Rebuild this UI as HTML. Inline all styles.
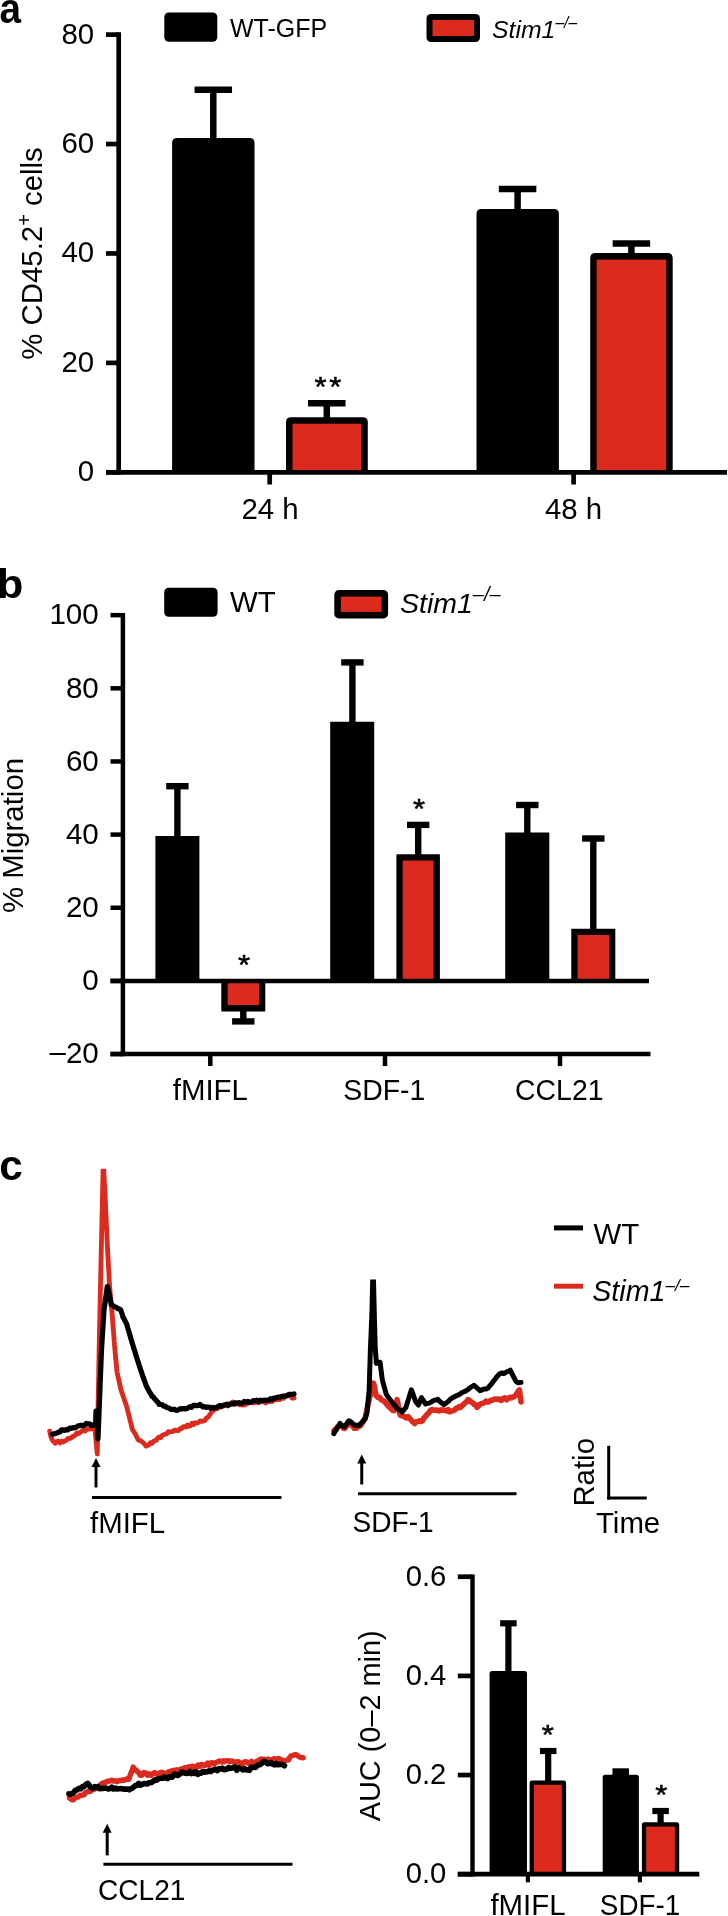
<!DOCTYPE html>
<html><head><meta charset="utf-8"><title>Figure</title>
<style>
html,body{margin:0;padding:0;background:#fff;}
body{width:728px;height:1916px;overflow:hidden;font-family:"Liberation Sans",sans-serif;}
svg{display:block;transform:translateZ(0);will-change:transform;font-family:"Liberation Sans",sans-serif;}
text{fill:#000;}
</style></head><body>
<svg width="728" height="1916" viewBox="0 0 728 1916">
<rect x="0" y="0" width="728" height="1916" fill="#fff"/>
<text transform="translate(-0.6,22.7) scale(0.91,1)" font-size="42.5" font-weight="bold">a</text>
<line x1="118.7" y1="32.27" x2="118.7" y2="474.65000000000003" stroke="#000" stroke-width="4.7" stroke-linecap="butt"/>
<line x1="106" y1="472.3" x2="118.7" y2="472.3" stroke="#000" stroke-width="4.7" stroke-linecap="butt"/>
<text x="94.2" y="481.3" font-size="29.4" text-anchor="end" font-weight="normal" font-style="normal" >0</text>
<line x1="106" y1="362.88" x2="118.7" y2="362.88" stroke="#000" stroke-width="4.7" stroke-linecap="butt"/>
<text x="94.2" y="371.88" font-size="29.4" text-anchor="end" font-weight="normal" font-style="normal" >20</text>
<line x1="106" y1="253.46" x2="118.7" y2="253.46" stroke="#000" stroke-width="4.7" stroke-linecap="butt"/>
<text x="94.2" y="262.46000000000004" font-size="29.4" text-anchor="end" font-weight="normal" font-style="normal" >40</text>
<line x1="106" y1="144.04000000000002" x2="118.7" y2="144.04000000000002" stroke="#000" stroke-width="4.7" stroke-linecap="butt"/>
<text x="94.2" y="153.04000000000002" font-size="29.4" text-anchor="end" font-weight="normal" font-style="normal" >60</text>
<line x1="106" y1="34.620000000000005" x2="118.7" y2="34.620000000000005" stroke="#000" stroke-width="4.7" stroke-linecap="butt"/>
<text x="94.2" y="43.620000000000005" font-size="29.4" text-anchor="end" font-weight="normal" font-style="normal" >80</text>
<line x1="269.7" y1="472.3" x2="269.7" y2="484.5" stroke="#000" stroke-width="4.7" stroke-linecap="butt"/>
<line x1="573.6" y1="472.3" x2="573.6" y2="484.5" stroke="#000" stroke-width="4.7" stroke-linecap="butt"/>
<text x="270" y="518.5" font-size="29.4" text-anchor="middle" font-weight="normal" font-style="normal" >24 h</text>
<text x="573.5" y="518.5" font-size="29.4" text-anchor="middle" font-weight="normal" font-style="normal" >48 h</text>
<text transform="translate(42,253.5) rotate(-90)" font-size="29.4" text-anchor="middle">% CD45.2<tspan font-size="20" dy="-11">+</tspan><tspan dy="11"> cells</tspan></text>
<path d="M172.1,472.3 L172.1,143 Q172.1,138 177.1,138 L249.5,138 Q254.5,138 254.5,143 L254.5,472.3 Z" fill="#000"/>
<line x1="194.55" y1="89.75" x2="232.05" y2="89.75" stroke="#000" stroke-width="6.5" stroke-linecap="butt"/>
<line x1="213.3" y1="89.75" x2="213.3" y2="140" stroke="#000" stroke-width="6.5" stroke-linecap="butt"/>
<path d="M286,472.3 L286,422.2 Q286,417.2 291,417.2 L362.8,417.2 Q367.8,417.2 367.8,422.2 L367.8,472.3 Z" fill="#000"/>
<rect x="292.5" y="423.7" width="68.80000000000001" height="48.60000000000002" fill="#dc2a1e"/>
<line x1="308.05" y1="403.25" x2="345.55" y2="403.25" stroke="#000" stroke-width="6.5" stroke-linecap="butt"/>
<line x1="326.8" y1="403.25" x2="326.8" y2="419" stroke="#000" stroke-width="6.5" stroke-linecap="butt"/>
<path d="M476.5,472.3 L476.5,213.9 Q476.5,208.9 481.5,208.9 L553.9,208.9 Q558.9,208.9 558.9,213.9 L558.9,472.3 Z" fill="#000"/>
<line x1="498.85" y1="189.05" x2="536.35" y2="189.05" stroke="#000" stroke-width="6.5" stroke-linecap="butt"/>
<line x1="517.6" y1="189.05" x2="517.6" y2="210" stroke="#000" stroke-width="6.5" stroke-linecap="butt"/>
<path d="M590.2,472.3 L590.2,258.1 Q590.2,253.1 595.2,253.1 L667.7,253.1 Q672.7,253.1 672.7,258.1 L672.7,472.3 Z" fill="#000"/>
<rect x="596.7" y="259.6" width="69.5" height="212.70000000000002" fill="#dc2a1e"/>
<line x1="612.65" y1="243.45" x2="650.15" y2="243.45" stroke="#000" stroke-width="6.5" stroke-linecap="butt"/>
<line x1="631.4" y1="243.45" x2="631.4" y2="255" stroke="#000" stroke-width="6.5" stroke-linecap="butt"/>
<line x1="106" y1="472.3" x2="727" y2="472.3" stroke="#000" stroke-width="4.7" stroke-linecap="butt"/>
<text transform="translate(320.5,396.41) scale(1,0.92)" font-size="31" text-anchor="middle" stroke="#000" stroke-width="0.55" stroke-linejoin="round">*</text>
<text transform="translate(335.2,396.41) scale(1,0.92)" font-size="31" text-anchor="middle" stroke="#000" stroke-width="0.55" stroke-linejoin="round">*</text>
<rect x="164.3" y="12.4" width="53.0" height="29.4" rx="4.5" fill="#000"/>
<text x="230" y="37.3" font-size="25" text-anchor="start" font-weight="normal" font-style="normal" >WT-GFP</text>
<rect x="426.5" y="14" width="53.5" height="28" rx="4.5" fill="#000"/>
<rect x="432.5" y="20" width="41.5" height="16" fill="#dc2a1e"/>
<text x="492" y="38" font-size="24.8" font-style="italic">Stim1<tspan font-size="15.6" dy="-10.3">–/–</tspan></text>
<text transform="translate(-2.9,598.3) scale(1.04,1)" font-size="41.5" font-weight="bold">b</text>
<line x1="122.9" y1="612.9" x2="122.9" y2="1056.3" stroke="#000" stroke-width="4.5" stroke-linecap="butt"/>
<line x1="110.5" y1="1054.05" x2="650.5" y2="1054.05" stroke="#000" stroke-width="4.5" stroke-linecap="butt"/>
<line x1="110.5" y1="1054.05" x2="122.9" y2="1054.05" stroke="#000" stroke-width="4.5" stroke-linecap="butt"/>
<text x="98.8" y="1063.35" font-size="29.6" text-anchor="end" font-weight="normal" font-style="normal" ><tspan dy="-1.5">–</tspan><tspan dy="1.5">20</tspan></text>
<line x1="110.5" y1="980.9" x2="122.9" y2="980.9" stroke="#000" stroke-width="4.5" stroke-linecap="butt"/>
<text x="98.8" y="990.1999999999999" font-size="29.6" text-anchor="end" font-weight="normal" font-style="normal" >0</text>
<line x1="110.5" y1="907.75" x2="122.9" y2="907.75" stroke="#000" stroke-width="4.5" stroke-linecap="butt"/>
<text x="98.8" y="917.05" font-size="29.6" text-anchor="end" font-weight="normal" font-style="normal" >20</text>
<line x1="110.5" y1="834.5999999999999" x2="122.9" y2="834.5999999999999" stroke="#000" stroke-width="4.5" stroke-linecap="butt"/>
<text x="98.8" y="843.8999999999999" font-size="29.6" text-anchor="end" font-weight="normal" font-style="normal" >40</text>
<line x1="110.5" y1="761.4499999999999" x2="122.9" y2="761.4499999999999" stroke="#000" stroke-width="4.5" stroke-linecap="butt"/>
<text x="98.8" y="770.7499999999999" font-size="29.6" text-anchor="end" font-weight="normal" font-style="normal" >60</text>
<line x1="110.5" y1="688.3" x2="122.9" y2="688.3" stroke="#000" stroke-width="4.5" stroke-linecap="butt"/>
<text x="98.8" y="697.5999999999999" font-size="29.6" text-anchor="end" font-weight="normal" font-style="normal" >80</text>
<line x1="110.5" y1="615.15" x2="122.9" y2="615.15" stroke="#000" stroke-width="4.5" stroke-linecap="butt"/>
<text x="98.8" y="624.4499999999999" font-size="29.6" text-anchor="end" font-weight="normal" font-style="normal" >100</text>
<line x1="210.3" y1="1054.05" x2="210.3" y2="1066.05" stroke="#000" stroke-width="4.5" stroke-linecap="butt"/>
<text x="210.3" y="1100.3" font-size="29.4" text-anchor="middle" font-weight="normal" font-style="normal" >fMIFL</text>
<line x1="385" y1="1054.05" x2="385" y2="1066.05" stroke="#000" stroke-width="4.5" stroke-linecap="butt"/>
<text transform="translate(384.3,1100.3) scale(0.965,1)" font-size="29.4" text-anchor="middle" font-weight="normal" font-style="normal" >SDF-1</text>
<line x1="560" y1="1054.05" x2="560" y2="1066.05" stroke="#000" stroke-width="4.5" stroke-linecap="butt"/>
<text transform="translate(559.3,1100.3) scale(0.966,1)" font-size="29.4" text-anchor="middle" font-weight="normal" font-style="normal" >CCL21</text>
<text transform="translate(22.5,835.5) rotate(-90)" font-size="29.4" text-anchor="middle">% Migration</text>
<path d="M155.4,980.9 L155.4,836.6 Q155.4,836 156.0,836 L198.8,836 Q199.4,836 199.4,836.6 L199.4,980.9 Z" fill="#000"/>
<line x1="166.20000000000002" y1="786.2" x2="188.6" y2="786.2" stroke="#000" stroke-width="6.4" stroke-linecap="butt"/>
<line x1="177.4" y1="786.2" x2="177.4" y2="838" stroke="#000" stroke-width="6.4" stroke-linecap="butt"/>
<path d="M221.3,980.9 L221.3,1010.8 Q221.3,1011.4 221.9,1011.4 L264.7,1011.4 Q265.3,1011.4 265.3,1010.8 L265.3,980.9 Z" fill="#000"/>
<rect x="227.60000000000002" y="980.9" width="31.4" height="24.200000000000045" fill="#dc2a1e"/>
<line x1="232.10000000000002" y1="1021.3999999999999" x2="254.5" y2="1021.3999999999999" stroke="#000" stroke-width="6.4" stroke-linecap="butt"/>
<line x1="243.3" y1="1021.3999999999999" x2="243.3" y2="1008" stroke="#000" stroke-width="6.4" stroke-linecap="butt"/>
<path d="M330.2,980.9 L330.2,722.4 Q330.2,721.8 330.8,721.8 L373.59999999999997,721.8 Q374.2,721.8 374.2,722.4 L374.2,980.9 Z" fill="#000"/>
<line x1="341.2" y1="662.4000000000001" x2="363.59999999999997" y2="662.4000000000001" stroke="#000" stroke-width="6.4" stroke-linecap="butt"/>
<line x1="352.4" y1="662.4000000000001" x2="352.4" y2="723" stroke="#000" stroke-width="6.4" stroke-linecap="butt"/>
<path d="M396.4,980.9 L396.4,854.8000000000001 Q396.4,854.2 397.0,854.2 L439.29999999999995,854.2 Q439.9,854.2 439.9,854.8000000000001 L439.9,980.9 Z" fill="#000"/>
<rect x="402.7" y="860.5" width="30.9" height="120.39999999999993" fill="#dc2a1e"/>
<line x1="407.0" y1="824.9000000000001" x2="429.4" y2="824.9000000000001" stroke="#000" stroke-width="6.4" stroke-linecap="butt"/>
<line x1="418.2" y1="824.9000000000001" x2="418.2" y2="856" stroke="#000" stroke-width="6.4" stroke-linecap="butt"/>
<path d="M505.2,980.9 L505.2,833.1 Q505.2,832.5 505.8,832.5 L548.6999999999999,832.5 Q549.3,832.5 549.3,833.1 L549.3,980.9 Z" fill="#000"/>
<line x1="516.0999999999999" y1="805.0" x2="538.5" y2="805.0" stroke="#000" stroke-width="6.4" stroke-linecap="butt"/>
<line x1="527.3" y1="805.0" x2="527.3" y2="834" stroke="#000" stroke-width="6.4" stroke-linecap="butt"/>
<path d="M571.3,980.9 L571.3,929.3000000000001 Q571.3,928.7 571.9,928.7 L614.6999999999999,928.7 Q615.3,928.7 615.3,929.3000000000001 L615.3,980.9 Z" fill="#000"/>
<rect x="577.5999999999999" y="935.0" width="31.4" height="45.899999999999935" fill="#dc2a1e"/>
<line x1="582.0999999999999" y1="838.5" x2="604.5" y2="838.5" stroke="#000" stroke-width="6.4" stroke-linecap="butt"/>
<line x1="593.3" y1="838.5" x2="593.3" y2="930" stroke="#000" stroke-width="6.4" stroke-linecap="butt"/>
<line x1="110.5" y1="980.9" x2="649" y2="980.9" stroke="#000" stroke-width="4.5" stroke-linecap="butt"/>
<text transform="translate(243.95,973.81) scale(1,0.92)" font-size="31" text-anchor="middle" stroke="#000" stroke-width="0.55" stroke-linejoin="round">*</text>
<text transform="translate(419.0,818.21) scale(1,0.92)" font-size="31" text-anchor="middle" stroke="#000" stroke-width="0.55" stroke-linejoin="round">*</text>
<rect x="164.2" y="587.8" width="53.400000000000006" height="29.0" rx="4.5" fill="#000"/>
<text x="230" y="612" font-size="29.4" text-anchor="start" font-weight="normal" font-style="normal" >WT</text>
<rect x="334.3" y="590.1" width="53.80000000000001" height="28.299999999999955" rx="4.5" fill="#000"/>
<rect x="340.8" y="596.6" width="40.80000000000001" height="15.299999999999955" fill="#dc2a1e"/>
<text x="400" y="613.3" font-size="28.5" font-style="italic">Stim1<tspan font-size="19.9" dy="-12.3">–/–</tspan></text>
<text transform="translate(-0.8,1180.4) scale(0.985,1)" font-size="43" font-weight="bold">c</text>
<clipPath id="cp1"><rect x="0" y="1168.8" width="728" height="400"/></clipPath>
<polyline points="49.6,1431.0 50.1,1433.0 50.5,1435.0 51.0,1437.0 51.8,1438.9 52.7,1440.7 53.5,1441.4 55.1,1443.3 56.8,1441.5 58.4,1441.2 60.1,1442.9 61.7,1441.3 63.4,1442.0 65.0,1440.7 66.5,1440.2 68.0,1438.3 69.5,1438.5 71.0,1438.1 72.5,1436.5 74.0,1436.1 75.5,1435.1 77.0,1432.9 78.5,1433.6 80.1,1432.5 81.8,1431.1 83.4,1429.8 85.1,1431.0 86.7,1429.4 88.4,1429.2 90.0,1429.1 92.4,1428.6 94.8,1428.0 95.0,1429.6 95.1,1431.2 95.3,1432.9 95.4,1434.5 95.6,1436.1 95.7,1437.8 95.9,1439.4 96.0,1441.0 96.2,1442.6 96.4,1444.2 96.5,1445.9 96.7,1447.5 96.8,1449.1 97.0,1450.8 97.1,1452.4 97.3,1454.0 97.3,1452.4 97.4,1450.7 97.4,1449.1 97.4,1447.5 97.4,1445.8 97.5,1444.2 97.5,1442.5 97.5,1440.9 97.5,1439.3 97.6,1437.6 97.6,1436.0 97.6,1434.4 97.7,1432.7 97.7,1431.1 97.7,1429.5 97.7,1427.8 97.8,1426.2 97.8,1424.5 97.8,1422.9 97.8,1421.3 97.9,1419.6 97.9,1418.0 97.9,1416.4 98.0,1414.7 98.0,1413.1 98.0,1411.5 98.0,1409.8 98.1,1408.2 98.1,1406.5 98.1,1404.9 98.1,1403.3 98.2,1401.6 98.2,1400.0 98.2,1398.4 98.3,1396.7 98.3,1395.1 98.3,1393.5 98.4,1391.9 98.4,1390.2 98.4,1388.6 98.4,1387.0 98.5,1385.3 98.5,1383.7 98.5,1382.1 98.6,1380.5 98.6,1378.8 98.6,1377.2 98.7,1375.6 98.7,1374.0 98.7,1372.3 98.7,1370.7 98.8,1369.1 98.8,1367.4 98.8,1365.8 98.9,1364.2 98.9,1362.6 98.9,1360.9 99.0,1359.3 99.0,1357.7 99.0,1356.0 99.0,1354.4 99.1,1352.8 99.1,1351.2 99.1,1349.5 99.2,1347.9 99.2,1346.3 99.2,1344.7 99.3,1343.0 99.3,1341.4 99.3,1339.8 99.3,1338.1 99.4,1336.5 99.4,1334.9 99.4,1333.3 99.5,1331.6 99.5,1330.0 99.5,1328.4 99.6,1326.8 99.6,1325.2 99.6,1323.6 99.7,1322.0 99.7,1320.4 99.8,1318.8 99.8,1317.1 99.8,1315.5 99.9,1313.9 99.9,1312.3 99.9,1310.7 100.0,1309.1 100.0,1307.5 100.0,1305.9 100.1,1304.3 100.1,1302.7 100.1,1301.1 100.2,1299.5 100.2,1297.9 100.2,1296.2 100.3,1294.6 100.3,1293.0 100.4,1291.4 100.4,1289.8 100.4,1288.2 100.5,1286.6 100.5,1285.0 100.5,1283.4 100.6,1281.8 100.6,1280.2 100.6,1278.6 100.7,1277.0 100.7,1275.4 100.8,1273.8 100.8,1272.1 100.8,1270.5 100.9,1268.9 100.9,1267.3 100.9,1265.7 101.0,1264.1 101.0,1262.5 101.0,1260.9 101.1,1259.3 101.1,1257.7 101.1,1256.1 101.2,1254.5 101.2,1252.9 101.2,1251.2 101.3,1249.6 101.3,1248.0 101.4,1246.4 101.4,1244.8 101.4,1243.2 101.5,1241.6 101.5,1240.0 101.5,1238.4 101.6,1236.8 101.6,1235.2 101.6,1233.6 101.7,1232.0 101.7,1230.4 101.8,1228.8 101.8,1227.2 101.8,1225.6 101.9,1224.0 101.9,1222.4 101.9,1220.8 102.0,1219.2 102.0,1217.6 102.0,1216.0 102.1,1214.4 102.1,1212.8 102.1,1211.2 102.2,1209.6 102.2,1208.0 102.3,1206.4 102.3,1204.8 102.3,1203.2 102.4,1201.6 102.4,1200.0 102.4,1198.4 102.5,1196.8 102.5,1195.2 102.5,1193.6 102.6,1192.0 102.6,1190.4 102.7,1188.8 102.7,1187.2 102.7,1185.6 102.8,1184.0 102.8,1182.4 102.8,1180.8 102.9,1179.2 102.9,1177.6 102.9,1176.0 103.0,1174.4 103.0,1172.8 103.0,1171.2 103.1,1169.6 103.1,1168.0 103.2,1166.4 103.2,1164.8 103.2,1163.2 103.3,1161.6 103.3,1160.0 103.4,1161.6 103.5,1163.2 103.5,1164.8 103.6,1166.4 103.7,1168.0 103.8,1169.6 103.9,1171.2 103.9,1172.8 104.0,1174.4 104.1,1176.0 104.2,1177.6 104.3,1179.2 104.3,1180.8 104.4,1182.4 104.5,1184.0 104.6,1185.6 104.7,1187.2 104.7,1188.8 104.8,1190.4 104.9,1192.0 105.0,1193.6 105.1,1195.2 105.1,1196.8 105.2,1198.4 105.3,1200.0 105.4,1201.7 105.4,1203.3 105.5,1205.0 105.6,1206.6 105.7,1208.3 105.7,1209.9 105.8,1211.6 105.9,1213.2 106.0,1214.9 106.0,1216.5 106.1,1218.2 106.2,1219.8 106.3,1221.5 106.3,1223.1 106.4,1224.8 106.5,1226.4 106.6,1228.1 106.6,1229.7 106.7,1231.4 106.8,1233.0 106.9,1234.7 106.9,1236.3 107.0,1238.0 107.1,1239.6 107.2,1241.3 107.2,1242.9 107.3,1244.6 107.4,1246.2 107.5,1247.8 107.6,1249.4 107.7,1251.1 107.7,1252.7 107.8,1254.3 107.9,1255.9 108.0,1257.5 108.1,1259.1 108.2,1260.8 108.3,1262.4 108.4,1264.0 108.4,1265.6 108.5,1267.2 108.6,1268.8 108.7,1270.5 108.8,1272.1 108.9,1273.7 109.0,1275.3 109.1,1276.9 109.1,1278.5 109.2,1280.2 109.3,1281.8 109.4,1283.4 109.5,1285.0 109.6,1286.6 109.8,1288.2 109.9,1289.8 110.1,1291.4 110.2,1293.0 110.4,1294.6 110.5,1296.2 110.7,1297.8 110.8,1299.4 110.9,1301.0 111.1,1302.6 111.2,1304.2 111.4,1305.8 111.5,1307.4 111.7,1309.0 111.8,1310.6 112.0,1312.2 112.1,1313.8 112.2,1315.4 112.4,1317.1 112.5,1318.7 112.6,1320.4 112.7,1322.0 112.9,1323.7 113.0,1325.3 113.1,1326.9 113.2,1328.6 113.4,1330.2 113.5,1331.9 113.6,1333.5 113.7,1335.1 113.9,1336.8 114.0,1338.4 114.1,1340.1 114.2,1341.7 114.4,1343.4 114.5,1345.0 114.7,1346.7 114.8,1348.3 115.0,1350.0 115.1,1351.6 115.2,1353.3 115.4,1354.9 115.5,1356.6 115.7,1358.2 115.9,1359.9 116.0,1361.6 116.2,1363.2 116.3,1364.9 116.5,1366.5 116.6,1368.2 116.8,1369.8 116.9,1371.5 117.3,1373.2 117.6,1374.9 118.0,1376.5 118.4,1378.2 118.8,1379.9 119.1,1381.6 119.5,1383.3 119.9,1385.0 120.3,1386.6 120.6,1388.3 121.0,1390.0 121.5,1391.6 122.1,1393.2 122.7,1394.8 123.2,1396.4 123.8,1398.0 124.3,1399.6 124.8,1401.2 125.4,1402.8 126.0,1404.4 126.5,1406.0 126.9,1407.6 127.3,1409.3 127.7,1410.9 128.2,1412.6 128.6,1414.2 129.0,1415.9 129.4,1417.5 129.8,1419.1 130.2,1420.8 130.6,1422.4 131.1,1424.1 131.5,1425.7 131.9,1427.4 132.3,1429.2 133.1,1430.8 133.9,1431.8 134.7,1433.0 135.6,1434.4 136.4,1436.2 137.2,1437.6 138.0,1439.6 139.3,1440.6 140.6,1440.6 141.9,1441.6 143.2,1442.9 144.5,1443.9 145.8,1446.1 147.3,1445.6 148.9,1444.9 150.4,1442.7 152.0,1443.3 153.5,1441.3 154.9,1440.6 156.4,1440.2 157.8,1438.0 159.2,1437.0 160.7,1437.6 162.1,1435.5 163.6,1434.7 165.0,1434.2 166.7,1433.9 168.3,1431.7 170.0,1431.9 171.7,1431.6 173.3,1431.2 175.0,1430.0 176.7,1430.3 178.3,1430.7 180.0,1428.7 181.5,1428.5 183.0,1426.9 184.5,1426.7 186.0,1427.0 187.5,1425.1 189.0,1426.3 190.5,1425.8 192.0,1423.3 193.5,1424.6 195.0,1422.7 196.7,1423.2 198.3,1422.6 200.0,1421.0 201.7,1421.4 203.3,1420.9 205.0,1420.5 206.2,1418.2 207.4,1417.6 208.6,1416.5 209.8,1414.7 211.0,1413.1 212.3,1411.0 213.7,1410.3 215.0,1408.7 216.8,1408.8 218.5,1407.9 220.2,1406.9 222.0,1405.2 223.8,1405.9 225.5,1405.3 227.2,1403.7 229.0,1405.0 230.8,1403.9 232.5,1402.0 234.2,1404.5 236.0,1402.7 237.8,1403.6 239.5,1404.9 241.2,1404.9 243.0,1405.1 244.7,1404.9 246.4,1404.0 248.1,1403.2 249.9,1402.5 251.6,1401.8 253.3,1403.0 255.0,1402.7 256.8,1402.1 258.6,1402.7 260.4,1401.6 262.1,1401.3 263.9,1401.7 265.7,1403.0 267.5,1400.8 269.1,1401.6 270.6,1400.6 272.2,1401.6 273.8,1400.1 275.3,1399.7 276.9,1399.5 278.4,1399.5 280.0,1399.6 281.8,1397.9 283.5,1398.3 285.2,1395.9 287.0,1395.4 288.8,1395.5 290.5,1396.0 292.2,1398.2 294.0,1398.0" fill="none" stroke="#dc2a1e" stroke-width="4.8" stroke-linejoin="round" stroke-linecap="round" clip-path="url(#cp1)"/>
<polyline points="52.5,1434.2 54.0,1433.8 55.5,1433.4 57.0,1433.0 58.5,1432.1 60.0,1431.9 61.5,1429.8 63.0,1429.9 64.7,1430.5 66.3,1429.6 68.0,1429.8 69.6,1428.0 71.3,1428.3 72.9,1427.6 74.6,1427.8 76.3,1427.3 77.9,1425.8 79.6,1425.6 81.3,1425.2 83.0,1425.8 84.7,1425.0 86.3,1423.4 88.0,1424.0 89.6,1423.8 91.3,1425.4 92.9,1425.5 94.2,1424.3 95.6,1424.0 95.6,1422.4 95.7,1420.8 95.8,1419.1 95.8,1417.5 95.8,1415.9 95.9,1414.2 96.0,1412.6 96.0,1411.2 97.2,1412.0 97.2,1413.7 97.3,1415.3 97.4,1417.0 97.4,1418.7 97.5,1420.4 97.5,1422.0 97.5,1423.7 97.6,1425.4 97.7,1427.1 97.7,1428.8 97.8,1430.4 97.8,1432.1 97.8,1433.8 97.9,1435.5 98.0,1437.1 98.0,1438.8 98.1,1437.2 98.1,1435.6 98.2,1434.0 98.2,1432.3 98.3,1430.7 98.4,1429.1 98.4,1427.5 98.5,1425.9 98.6,1424.2 98.6,1422.6 98.7,1421.0 98.8,1419.4 98.8,1417.8 98.9,1416.2 98.9,1414.5 99.0,1412.9 99.1,1411.3 99.1,1409.7 99.2,1408.1 99.2,1406.5 99.3,1404.8 99.4,1403.2 99.4,1401.6 99.5,1400.0 99.6,1398.4 99.6,1396.8 99.7,1395.2 99.8,1393.5 99.8,1391.9 99.9,1390.3 100.0,1388.7 100.0,1387.1 100.1,1385.5 100.1,1383.9 100.2,1382.3 100.3,1380.6 100.3,1379.0 100.4,1377.4 100.5,1375.8 100.5,1374.2 100.6,1372.6 100.7,1371.0 100.7,1369.4 100.8,1367.7 100.9,1366.1 100.9,1364.5 101.0,1362.9 101.0,1361.3 101.1,1359.7 101.2,1358.1 101.2,1356.5 101.3,1354.8 101.4,1353.2 101.4,1351.6 101.5,1350.0 101.6,1348.4 101.7,1346.8 101.8,1345.2 101.9,1343.6 102.0,1342.0 102.1,1340.4 102.2,1338.8 102.3,1337.2 102.4,1335.6 102.5,1334.0 102.6,1332.4 102.7,1330.8 102.8,1329.2 102.9,1327.6 103.0,1326.0 103.1,1324.4 103.2,1322.8 103.3,1321.2 103.4,1319.6 103.5,1318.0 103.6,1316.4 103.7,1314.8 103.8,1313.2 103.9,1311.6 104.0,1310.0 104.2,1308.3 104.5,1306.6 104.7,1305.0 104.9,1303.3 105.2,1301.6 105.4,1299.9 105.7,1298.2 105.9,1296.6 106.1,1294.9 106.4,1293.2 106.6,1291.5 106.8,1289.9 107.1,1288.2 107.3,1286.5 107.7,1288.1 108.2,1289.8 108.6,1291.4 109.0,1293.0 109.3,1294.6 109.6,1296.1 109.9,1297.7 110.3,1299.3 110.6,1300.9 110.9,1302.4 111.2,1304.6 112.8,1305.5 114.4,1306.8 116.0,1307.2 117.6,1308.7 119.2,1308.9 120.8,1310.0 121.3,1311.8 121.9,1313.5 122.5,1315.2 123.0,1317.2 123.9,1318.5 124.8,1320.3 125.6,1322.0 126.5,1323.5 127.0,1325.0 127.4,1326.6 127.8,1328.2 128.3,1329.7 128.8,1331.2 129.2,1332.8 129.7,1334.3 130.1,1335.9 130.6,1337.5 131.0,1339.0 131.5,1340.5 131.9,1342.1 132.4,1343.6 132.9,1345.2 133.4,1346.7 133.8,1348.3 134.3,1349.8 134.8,1351.4 135.3,1352.9 135.7,1354.5 136.2,1356.0 136.7,1357.7 137.3,1359.3 137.8,1361.0 138.3,1362.7 138.9,1364.3 139.4,1366.0 139.9,1367.7 140.5,1369.3 141.0,1371.0 141.6,1372.6 142.1,1374.2 142.7,1375.8 143.3,1377.4 143.8,1379.0 144.4,1380.6 145.0,1382.2 145.6,1383.8 146.1,1385.4 146.7,1386.7 147.6,1388.5 148.5,1389.9 149.3,1391.6 150.2,1393.1 151.1,1394.3 152.0,1396.4 153.2,1396.8 154.4,1398.6 155.6,1399.8 156.8,1401.2 158.0,1402.2 159.2,1404.5 160.7,1404.5 162.1,1404.6 163.6,1406.2 165.1,1406.0 166.5,1407.4 168.0,1407.7 169.6,1408.5 171.2,1409.5 172.8,1409.6 174.3,1409.2 175.9,1410.2 177.5,1410.3 179.1,1409.4 180.6,1408.6 182.2,1409.0 183.8,1408.6 185.3,1409.0 186.9,1408.6 188.4,1407.6 190.0,1406.7 191.7,1407.4 193.3,1405.4 195.0,1405.3 196.7,1405.8 198.3,1405.5 200.0,1404.4 201.5,1405.8 203.0,1406.9 204.5,1406.7 206.0,1407.4 207.6,1407.0 209.2,1407.1 210.9,1408.4 212.5,1407.3 214.3,1408.0 216.1,1407.5 217.9,1406.6 219.6,1405.6 221.4,1406.6 223.2,1405.4 225.0,1404.8 226.6,1404.4 228.2,1405.5 229.8,1404.3 231.4,1403.7 233.0,1403.8 234.5,1402.9 236.1,1403.6 237.7,1403.1 239.3,1402.6 240.9,1403.3 242.5,1403.1 244.3,1401.4 246.1,1402.1 247.9,1401.4 249.6,1402.5 251.4,1402.0 253.2,1400.7 255.0,1400.6 256.8,1400.2 258.6,1401.7 260.4,1400.2 262.1,1400.6 263.9,1400.2 265.7,1400.4 267.5,1400.2 269.1,1400.1 270.6,1398.6 272.2,1399.3 273.8,1398.1 275.3,1398.2 276.9,1397.5 278.4,1397.0 280.0,1397.1 281.8,1396.6 283.5,1396.0 285.2,1396.3 287.0,1395.7 288.8,1394.3 290.5,1394.3 292.2,1394.3 294.0,1394.0" fill="none" stroke="#000" stroke-width="5.2" stroke-linejoin="round" stroke-linecap="round"/>
<line x1="96" y1="1466" x2="96" y2="1487.5" stroke="#000" stroke-width="3" stroke-linecap="butt"/>
<path d="M96,1458 L100.5,1467 L91.5,1467 Z" fill="#000"/>
<line x1="92" y1="1497.5" x2="281.5" y2="1497.5" stroke="#000" stroke-width="3" stroke-linecap="butt"/>
<text x="90" y="1533" font-size="29.4" text-anchor="start" font-weight="normal" font-style="normal" >fMIFL</text>
<polyline points="334.0,1430.7 335.2,1429.3 336.4,1428.8 337.6,1426.7 338.8,1426.3 340.0,1424.8 341.5,1425.6 342.9,1427.7 344.4,1428.5 345.5,1427.4 346.6,1425.5 347.7,1424.0 348.8,1422.9 350.2,1424.8 351.6,1424.9 352.9,1426.3 354.3,1428.3 356.2,1428.3 358.1,1426.8 360.0,1425.9 361.0,1425.1 362.0,1422.7 363.0,1422.2 364.0,1420.2 365.0,1419.0 365.3,1417.4 365.7,1415.8 366.0,1414.2 366.3,1412.7 366.7,1411.1 367.0,1409.5 367.3,1407.9 367.7,1406.3 368.0,1404.8 368.3,1403.2 368.7,1401.6 369.0,1400.0 369.4,1398.3 369.9,1396.6 370.4,1395.0 370.8,1393.3 371.2,1391.6 371.7,1389.9 372.1,1388.2 372.6,1386.6 373.1,1384.9 373.5,1383.2 373.9,1384.9 374.2,1386.5 374.6,1388.2 374.9,1389.8 375.2,1391.5 375.6,1393.1 375.9,1394.8 376.3,1395.7 377.8,1397.3 379.4,1397.2 380.9,1399.4 382.5,1400.5 384.0,1400.9 385.1,1402.6 386.2,1403.2 387.3,1405.0 388.4,1406.2 389.5,1407.5 390.9,1408.4 392.4,1410.2 393.8,1410.7 394.3,1409.1 394.7,1407.6 395.2,1406.0 395.7,1404.4 396.2,1402.8 396.6,1401.3 397.1,1399.7 397.4,1401.4 397.8,1403.0 398.1,1404.7 398.4,1406.3 398.8,1408.0 399.1,1409.6 399.4,1411.2 399.7,1412.9 400.1,1414.5 400.4,1415.3 402.3,1415.9 404.2,1416.5 406.2,1417.9 408.1,1416.6 409.4,1418.3 410.7,1419.6 412.1,1421.3 413.4,1422.3 414.7,1423.6 416.3,1421.7 417.9,1421.5 419.5,1420.8 421.1,1421.4 422.7,1420.6 423.8,1418.2 424.9,1417.0 426.0,1415.8 427.0,1414.5 428.1,1413.6 429.2,1412.4 430.3,1410.4 432.1,1409.5 433.8,1410.3 435.6,1410.0 437.4,1410.2 439.1,1410.9 440.9,1410.1 442.7,1409.9 444.5,1410.4 446.4,1410.9 448.2,1409.6 450.0,1411.9 451.5,1411.1 453.0,1410.7 454.5,1410.0 456.0,1408.5 457.5,1408.0 459.0,1406.7 460.5,1407.4 462.0,1405.8 463.2,1404.6 464.4,1403.6 465.6,1402.4 466.8,1401.5 468.0,1399.6 469.5,1400.5 471.0,1401.8 472.5,1402.7 474.0,1404.2 475.5,1404.6 477.0,1407.3 478.5,1406.0 480.0,1404.3 481.5,1403.7 483.0,1403.2 484.5,1402.5 486.0,1401.2 487.5,1402.0 489.0,1401.7 490.8,1400.3 492.5,1400.2 494.3,1399.1 496.0,1399.0 497.8,1399.5 499.5,1399.1 501.3,1400.4 503.0,1398.5 504.8,1397.8 506.5,1399.8 508.2,1398.5 509.9,1397.2 511.7,1397.9 513.4,1396.9 514.4,1396.3 515.4,1395.6 516.4,1394.2 517.4,1392.8 518.4,1390.9 519.4,1390.0 519.6,1391.7 519.9,1393.4 520.1,1395.1 520.3,1396.9 520.5,1398.6 520.8,1400.3 521.0,1402.0" fill="none" stroke="#dc2a1e" stroke-width="5.6" stroke-linejoin="round" stroke-linecap="round"/>
<clipPath id="cp2"><rect x="0" y="1279.6" width="728" height="400"/></clipPath>
<polyline points="333.8,1433.7 334.6,1432.3 335.5,1430.7 336.4,1429.6 337.3,1427.8 338.2,1426.6 339.1,1425.4 340.0,1423.4 341.5,1424.9 342.9,1426.1 344.4,1426.9 345.5,1425.4 346.6,1423.9 347.7,1422.1 348.8,1420.7 350.2,1421.3 351.6,1422.5 352.9,1423.6 354.3,1425.0 356.1,1425.5 358.0,1425.1 359.8,1425.2 360.9,1423.6 362.0,1422.5 363.1,1420.8 364.2,1419.6 365.3,1418.4 365.8,1416.6 366.4,1414.7 366.9,1412.9 367.1,1411.2 367.2,1409.5 367.4,1407.8 367.6,1406.1 367.7,1404.4 367.9,1402.7 368.1,1401.1 368.3,1399.4 368.4,1397.7 368.6,1396.0 368.8,1394.3 368.9,1392.6 369.1,1390.9 369.2,1389.3 369.2,1387.6 369.3,1386.0 369.3,1384.4 369.4,1382.8 369.4,1381.1 369.5,1379.5 369.5,1377.9 369.6,1376.2 369.6,1374.6 369.7,1373.0 369.7,1371.3 369.8,1369.7 369.8,1368.1 369.9,1366.5 369.9,1364.8 370.0,1363.2 370.0,1361.6 370.1,1359.9 370.1,1358.3 370.2,1356.7 370.2,1355.0 370.3,1353.4 370.3,1351.8 370.4,1350.2 370.4,1348.5 370.5,1346.9 370.6,1345.3 370.6,1343.6 370.7,1342.0 370.8,1340.3 370.9,1338.7 370.9,1337.0 371.0,1335.4 371.1,1333.7 371.1,1332.1 371.2,1330.5 371.3,1328.8 371.3,1327.2 371.4,1325.5 371.5,1323.9 371.5,1322.2 371.6,1320.6 371.7,1318.9 371.8,1317.3 371.8,1315.6 371.9,1314.0 371.9,1312.4 372.0,1310.8 372.0,1309.2 372.1,1307.5 372.1,1305.9 372.1,1304.3 372.2,1302.7 372.2,1301.1 372.2,1299.5 372.3,1297.8 372.3,1296.2 372.4,1294.6 372.4,1293.0 372.4,1291.4 372.5,1289.8 372.5,1288.2 372.6,1286.5 372.6,1284.9 372.6,1283.3 372.7,1281.7 372.7,1280.1 372.7,1278.5 372.8,1276.8 372.8,1275.2 372.9,1273.6 372.9,1271.6 373.3,1272.0 373.3,1273.6 373.4,1275.2 373.4,1276.8 373.5,1278.5 373.5,1280.1 373.5,1281.7 373.6,1283.3 373.6,1284.9 373.6,1286.5 373.7,1288.2 373.7,1289.8 373.8,1291.4 373.8,1293.0 373.8,1294.6 373.9,1296.2 373.9,1297.8 374.0,1299.5 374.0,1301.1 374.0,1302.7 374.1,1304.3 374.1,1305.9 374.1,1307.5 374.2,1309.2 374.2,1310.8 374.3,1312.4 374.3,1314.0 374.3,1315.6 374.4,1317.3 374.4,1318.9 374.5,1320.6 374.5,1322.2 374.6,1323.9 374.6,1325.5 374.7,1327.2 374.7,1328.8 374.8,1330.5 374.8,1332.1 374.8,1333.7 374.9,1335.4 374.9,1337.0 375.0,1338.7 375.0,1340.3 375.1,1342.0 375.1,1343.6 375.2,1345.3 375.2,1346.9 375.3,1348.5 375.4,1350.1 375.5,1351.7 375.6,1353.3 375.8,1354.9 375.9,1356.5 376.0,1358.1 376.1,1359.7 376.2,1361.3 376.3,1363.4 378.2,1362.1 380.1,1362.3 380.3,1363.9 380.5,1365.5 380.7,1367.1 380.9,1368.7 381.1,1370.3 381.3,1371.9 381.5,1373.5 381.7,1375.1 381.9,1376.7 382.1,1378.3 382.3,1379.9 382.7,1381.5 383.2,1383.1 383.6,1384.7 384.0,1386.3 384.5,1387.8 384.9,1389.4 385.3,1391.0 385.8,1392.6 386.2,1394.2 387.3,1395.8 388.4,1397.4 389.4,1398.8 390.5,1400.1 391.6,1401.7 392.7,1403.3 393.8,1404.3 394.9,1405.6 396.0,1407.1 397.1,1408.5 398.8,1409.6 400.4,1410.3 402.1,1412.0 403.4,1410.2 404.6,1409.0 405.9,1407.4 406.4,1405.8 406.9,1404.2 407.4,1402.6 407.9,1401.0 408.4,1399.4 408.9,1397.8 409.4,1396.2 409.9,1394.6 410.4,1393.0 410.9,1391.4 411.4,1389.8 411.9,1391.3 412.5,1392.8 413.1,1394.3 413.6,1395.8 414.1,1397.4 414.7,1398.9 415.2,1400.4 415.8,1401.9 417.1,1403.4 418.5,1405.0 419.1,1403.5 419.7,1402.0 420.3,1400.5 420.9,1399.0 421.5,1397.5 422.3,1399.1 423.2,1400.1 424.0,1401.5 424.9,1403.1 425.7,1404.0 427.5,1403.4 429.2,1403.1 431.0,1402.1 432.7,1401.1 434.4,1400.3 436.1,1400.0 437.8,1399.4 439.3,1401.0 440.9,1402.4 442.4,1403.4 443.9,1404.7 445.2,1403.8 446.5,1402.7 447.8,1401.8 449.1,1400.8 450.4,1399.1 451.7,1398.3 453.0,1397.3 454.5,1396.8 456.0,1396.0 457.5,1395.1 459.0,1394.8 460.5,1393.6 462.0,1392.6 463.5,1391.9 465.0,1391.4 466.5,1390.5 468.0,1389.5 469.5,1388.3 471.0,1387.1 472.5,1386.3 474.0,1385.3 475.5,1386.4 477.0,1388.0 478.5,1389.0 480.0,1390.7 481.9,1390.1 483.9,1389.1 485.8,1389.1 487.7,1388.3 488.7,1387.1 489.7,1385.9 490.7,1384.8 491.7,1383.6 492.7,1382.2 493.8,1380.7 494.8,1379.6 495.8,1378.2 496.8,1376.8 497.8,1375.8 498.8,1374.5 499.8,1373.7 501.5,1373.0 503.3,1373.5 505.0,1373.0 506.8,1371.7 508.5,1371.4 510.3,1370.2 511.1,1371.8 511.8,1373.2 512.6,1374.7 513.4,1376.5 514.1,1377.7 514.9,1379.3 515.6,1380.8 516.4,1381.9 518.7,1382.8 521.0,1382.4" fill="none" stroke="#000" stroke-width="5.0" stroke-linejoin="round" stroke-linecap="round" clip-path="url(#cp2)"/>
<line x1="361.75" y1="1462.5" x2="361.75" y2="1484.5" stroke="#000" stroke-width="3" stroke-linecap="butt"/>
<path d="M361.75,1454.5 L366.25,1463.5 L357.25,1463.5 Z" fill="#000"/>
<line x1="358" y1="1493.75" x2="516.5" y2="1493.75" stroke="#000" stroke-width="3" stroke-linecap="butt"/>
<text transform="translate(352.5,1532.2) scale(0.955,1)" font-size="29.4" text-anchor="start" font-weight="normal" font-style="normal" >SDF-1</text>
<line x1="554" y1="1227.9" x2="583" y2="1227.9" stroke="#000" stroke-width="5" stroke-linecap="butt"/>
<text x="593.5" y="1243.6" font-size="29.4" text-anchor="start" font-weight="normal" font-style="normal" >WT</text>
<line x1="554" y1="1286.2" x2="583" y2="1286.2" stroke="#dc2a1e" stroke-width="5" stroke-linecap="butt"/>
<text x="592.3" y="1301" font-size="28.6" font-style="italic">Stim1<tspan font-size="17.2" dy="-10.4">–/–</tspan></text>
<line x1="608.7" y1="1445.8" x2="608.7" y2="1499.5" stroke="#000" stroke-width="3" stroke-linecap="butt"/>
<line x1="607.2" y1="1498" x2="646.8" y2="1498" stroke="#000" stroke-width="3" stroke-linecap="butt"/>
<text transform="translate(594,1472.3) rotate(-90)" font-size="29.4" text-anchor="middle">Ratio</text>
<text x="596" y="1532.5" font-size="29.4" text-anchor="start" font-weight="normal" font-style="normal" >Time</text>
<polyline points="69.5,1797.9 71.6,1799.6 73.2,1799.9 74.9,1798.0 76.5,1797.5 78.1,1797.0 79.8,1795.3 81.4,1795.4 82.8,1795.0 84.3,1794.7 85.7,1792.3 87.2,1792.0 88.6,1790.9 90.2,1791.5 91.7,1790.3 93.3,1787.9 94.9,1789.0 96.4,1788.0 98.0,1786.4 99.7,1785.6 101.4,1783.8 103.1,1782.8 104.8,1783.4 106.5,1781.6 108.2,1781.1 110.0,1781.0 111.8,1780.2 113.6,1781.1 115.3,1780.8 117.1,1781.7 118.9,1780.5 120.7,1780.6 122.3,1780.0 123.9,1780.3 125.6,1779.5 127.2,1778.8 128.8,1779.3 129.4,1777.7 129.9,1776.2 130.4,1774.6 131.0,1772.9 131.7,1771.3 132.5,1769.6 133.2,1767.1 134.6,1769.6 136.0,1769.8 137.5,1772.0 138.9,1772.5 140.4,1775.4 142.2,1775.0 144.0,1772.5 145.8,1773.1 147.5,1775.2 149.3,1773.9 151.1,1775.4 152.9,1773.7 154.7,1772.6 156.4,1774.1 158.2,1774.4 159.9,1772.8 161.7,1772.2 163.5,1772.8 165.2,1774.5 167.0,1773.7 168.6,1771.6 170.2,1771.5 171.8,1770.8 173.4,1770.3 175.0,1771.9 176.6,1769.8 178.2,1770.4 179.8,1769.7 181.4,1768.7 183.1,1769.8 184.7,1767.7 186.3,1768.8 188.0,1766.9 189.7,1767.4 191.3,1766.4 193.0,1766.2 194.6,1767.7 196.2,1766.9 197.9,1765.1 199.5,1766.5 201.1,1764.4 202.8,1764.7 204.4,1765.7 206.0,1764.9 207.6,1763.1 209.2,1765.4 210.8,1762.9 212.5,1762.8 214.1,1764.0 215.7,1762.5 217.3,1762.1 218.9,1761.2 220.5,1761.0 222.1,1762.1 223.6,1760.8 225.2,1761.5 226.8,1760.6 228.4,1760.6 230.0,1761.6 231.8,1760.9 233.6,1761.6 235.3,1762.9 237.1,1761.6 238.9,1762.0 240.7,1764.1 242.5,1763.7 244.3,1761.9 246.0,1761.6 247.8,1763.1 249.6,1763.5 251.4,1761.3 253.2,1763.0 255.0,1762.5 256.8,1761.4 258.6,1760.5 260.4,1759.2 262.0,1759.0 263.6,1761.6 265.2,1759.4 266.8,1760.6 268.4,1759.2 270.0,1760.8 271.6,1760.1 273.2,1759.1 274.8,1758.6 276.4,1760.1 278.2,1758.4 280.0,1759.0 281.8,1760.1 283.5,1761.1 285.3,1760.6 287.1,1760.0 288.4,1760.1 289.7,1757.6 291.0,1755.9 292.6,1755.5 294.3,1754.9 295.9,1754.6 297.4,1755.5 299.0,1756.6 301.1,1757.6 303.2,1757.7" fill="none" stroke="#dc2a1e" stroke-width="5.4" stroke-linejoin="round" stroke-linecap="round"/>
<polyline points="68.9,1793.9 70.4,1794.2 71.9,1793.5 73.4,1793.1 74.9,1790.7 76.4,1790.1 77.9,1789.1 79.4,1788.4 81.0,1788.8 82.5,1786.5 84.0,1786.6 85.8,1784.5 87.7,1783.4 89.1,1785.0 90.5,1787.3 93.0,1788.5 94.7,1786.6 96.3,1787.2 98.0,1786.7 99.6,1788.8 101.3,1788.5 102.9,1788.4 104.6,1788.3 106.4,1788.2 108.2,1789.0 110.0,1788.6 111.7,1787.1 113.5,1789.0 115.3,1788.0 117.1,1789.0 118.9,1788.7 120.7,1788.6 122.5,1788.7 124.3,1789.2 126.1,1789.1 127.9,1789.1 129.4,1789.8 131.0,1788.7 132.5,1788.2 133.9,1786.7 135.4,1785.5 136.8,1785.4 138.6,1783.4 140.4,1785.2 142.1,1784.4 143.9,1783.6 145.7,1783.8 147.2,1784.0 148.8,1782.7 150.3,1782.6 151.8,1782.4 153.3,1781.2 154.9,1779.8 156.4,1780.2 158.0,1779.0 159.6,1778.6 161.2,1778.1 162.8,1778.2 164.3,1777.0 165.9,1778.2 167.5,1778.7 169.1,1776.7 170.7,1777.2 172.3,1777.3 173.9,1774.3 175.5,1774.1 177.1,1775.5 178.6,1775.0 180.2,1774.0 181.8,1772.1 183.4,1772.4 185.0,1773.2 186.6,1773.4 188.2,1773.2 189.8,1771.5 191.4,1773.6 193.1,1772.2 194.7,1773.4 196.3,1771.7 197.9,1774.3 199.5,1773.0 201.1,1773.1 202.8,1771.3 204.4,1772.3 206.0,1771.9 207.6,1771.7 209.2,1770.8 210.8,1771.6 212.5,1770.2 214.1,1769.8 215.7,1769.2 217.3,1770.6 219.0,1768.7 220.6,1768.9 222.2,1768.2 223.8,1769.8 225.5,1769.4 227.1,1769.2 228.7,1767.5 230.3,1768.5 232.0,1768.1 233.6,1767.2 235.2,1767.1 236.8,1770.3 238.4,1767.8 240.0,1768.6 241.5,1768.7 243.1,1769.9 244.7,1768.5 246.3,1769.9 247.9,1769.9 249.4,1770.3 251.0,1767.4 252.5,1767.5 254.0,1767.1 255.5,1767.5 257.1,1765.6 258.6,1764.7 260.4,1764.6 262.1,1762.9 263.9,1761.5 265.7,1762.1 267.5,1763.7 269.3,1763.5 271.0,1762.5 272.8,1764.1 274.6,1764.9 276.2,1763.5 277.9,1764.8 279.6,1764.4 281.2,1764.3 282.9,1764.8 284.5,1765.7" fill="none" stroke="#000" stroke-width="5.6" stroke-linejoin="round" stroke-linecap="round"/>
<line x1="107.2" y1="1831.8" x2="107.2" y2="1855.4" stroke="#000" stroke-width="3" stroke-linecap="butt"/>
<path d="M107.2,1823.8 L111.7,1832.8 L102.7,1832.8 Z" fill="#000"/>
<line x1="103.4" y1="1864.3" x2="292.5" y2="1864.3" stroke="#000" stroke-width="3" stroke-linecap="butt"/>
<text transform="translate(98,1900) scale(0.955,1)" font-size="29.4" text-anchor="start" font-weight="normal" font-style="normal" >CCL21</text>
<line x1="472.5" y1="1574.52" x2="472.5" y2="1876.4" stroke="#000" stroke-width="4.4" stroke-linecap="butt"/>
<line x1="457.8" y1="1874.2" x2="472.5" y2="1874.2" stroke="#000" stroke-width="4.7" stroke-linecap="butt"/>
<text x="446.3" y="1883.4" font-size="29.2" text-anchor="end" font-weight="normal" font-style="normal" >0.0</text>
<line x1="457.8" y1="1775.04" x2="472.5" y2="1775.04" stroke="#000" stroke-width="4.7" stroke-linecap="butt"/>
<text x="446.3" y="1784.24" font-size="29.2" text-anchor="end" font-weight="normal" font-style="normal" >0.2</text>
<line x1="457.8" y1="1675.88" x2="472.5" y2="1675.88" stroke="#000" stroke-width="4.7" stroke-linecap="butt"/>
<text x="446.3" y="1685.0800000000002" font-size="29.2" text-anchor="end" font-weight="normal" font-style="normal" >0.4</text>
<line x1="457.8" y1="1576.72" x2="472.5" y2="1576.72" stroke="#000" stroke-width="4.7" stroke-linecap="butt"/>
<text x="446.3" y="1585.92" font-size="29.2" text-anchor="end" font-weight="normal" font-style="normal" >0.6</text>
<line x1="527.9" y1="1874.2" x2="527.9" y2="1882.3" stroke="#000" stroke-width="4.2" stroke-linecap="butt"/>
<text x="528" y="1915.4" font-size="29.4" text-anchor="middle" font-weight="normal" font-style="normal" >fMIFL</text>
<line x1="639.9" y1="1874.2" x2="639.9" y2="1882.3" stroke="#000" stroke-width="4.2" stroke-linecap="butt"/>
<text transform="translate(640,1915.4) scale(0.945,1)" font-size="29.4" text-anchor="middle" font-weight="normal" font-style="normal" >SDF-1</text>
<text transform="translate(379.6,1725.8) rotate(-90)" font-size="28.9" text-anchor="middle">AUC (0–2 min)</text>
<path d="M489.6,1874.2 L489.6,1673.4 Q489.6,1670.9 492.1,1670.9 L524.5,1670.9 Q527,1670.9 527,1673.4 L527,1874.2 Z" fill="#000"/>
<line x1="500.15" y1="1623.3" x2="516.65" y2="1623.3" stroke="#000" stroke-width="6.2" stroke-linecap="butt"/>
<line x1="508.4" y1="1623.3" x2="508.4" y2="1673" stroke="#000" stroke-width="6.2" stroke-linecap="butt"/>
<path d="M529.6,1874.2 L529.6,1783.0 Q529.6,1780.5 532.1,1780.5 L563.6,1780.5 Q566.1,1780.5 566.1,1783.0 L566.1,1874.2 Z" fill="#000"/>
<rect x="533.9" y="1784.8" width="27.9" height="89.40000000000005" fill="#dc2a1e"/>
<line x1="539.95" y1="1751.0" x2="556.45" y2="1751.0" stroke="#000" stroke-width="6.2" stroke-linecap="butt"/>
<line x1="548.2" y1="1751.0" x2="548.2" y2="1783" stroke="#000" stroke-width="6.2" stroke-linecap="butt"/>
<path d="M602.7,1874.2 L602.7,1777.3 Q602.7,1774.8 605.2,1774.8 L636.4,1774.8 Q638.9,1774.8 638.9,1777.3 L638.9,1874.2 Z" fill="#000"/>
<line x1="612.45" y1="1771.7" x2="628.95" y2="1771.7" stroke="#000" stroke-width="6.8" stroke-linecap="butt"/>
<line x1="620.7" y1="1771.7" x2="620.7" y2="1777" stroke="#000" stroke-width="6.8" stroke-linecap="butt"/>
<path d="M641.9,1874.2 L641.9,1824.8 Q641.9,1822.3 644.4,1822.3 L676.7,1822.3 Q679.2,1822.3 679.2,1824.8 L679.2,1874.2 Z" fill="#000"/>
<rect x="646.1999999999999" y="1826.6" width="28.700000000000067" height="47.600000000000094" fill="#dc2a1e"/>
<line x1="652.35" y1="1811.0" x2="668.85" y2="1811.0" stroke="#000" stroke-width="6.2" stroke-linecap="butt"/>
<line x1="660.6" y1="1811.0" x2="660.6" y2="1825" stroke="#000" stroke-width="6.2" stroke-linecap="butt"/>
<line x1="457.8" y1="1874.2" x2="699.3" y2="1874.2" stroke="#000" stroke-width="4.7" stroke-linecap="butt"/>
<text transform="translate(547.9,1744.41) scale(1,0.92)" font-size="31" text-anchor="middle" stroke="#000" stroke-width="0.55" stroke-linejoin="round">*</text>
<text transform="translate(661.4,1803.71) scale(1,0.92)" font-size="31" text-anchor="middle" stroke="#000" stroke-width="0.55" stroke-linejoin="round">*</text>
</svg>
</body></html>
